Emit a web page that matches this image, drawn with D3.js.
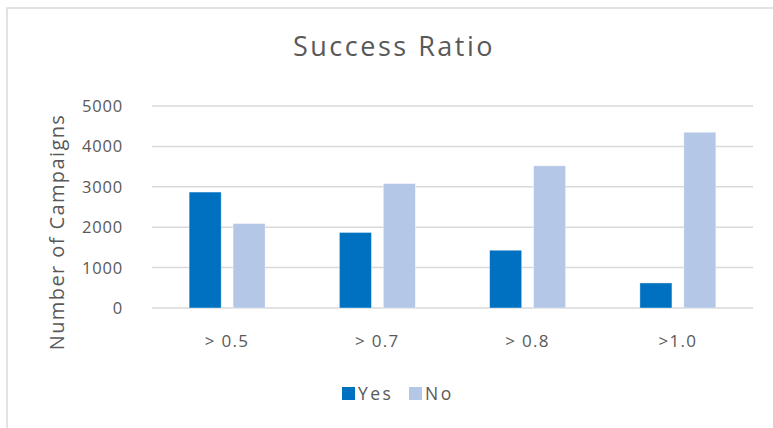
<!DOCTYPE html>
<html>
<head>
<meta charset="utf-8">
<script src="https://cdn.jsdelivr.net/npm/d3@7.9.0/dist/d3.min.js"></script>
<style>
  body { margin: 0; background: #fff; }
  svg { display: block; font-family: "Open Sans", "Noto Sans", sans-serif; }
</style>
</head>
<body>
<svg id="chart" width="773" height="428"></svg>
<script>
// chart data
const categories = ['> 0.5', '> 0.7', '> 0.8', '>1.0'];
const seriesNames = ['Yes', 'No'];
const yesValues = [2870, 1870, 1430, 620];
const noValues = [2090, 3080, 3520, 4350];
const yTicks = [0, 1000, 2000, 3000, 4000, 5000];
const colors = ['#0070C0', '#B4C7E7'];

let svg = d3.select('#chart');
const textColor = '#595959';

// chart area border (left and top visible only)
svg.append('path')
  .attr('d', 'M7,428 V8 H773')
  .attr('fill', 'none')
  .attr('stroke', '#d9d9d9')
  .attr('stroke-width', 1.5);

let plot = { left: 152, right: 753, top: 106, bottom: 308 };

let x0 = d3.scaleBand()
  .domain(categories)
  .range([plot.left, plot.right]);

let x1 = d3.scaleBand()
  .domain(seriesNames)
  .range([0, 76])
  .paddingInner(0.27);

let y = d3.scaleLinear()
  .domain([0, 5000])
  .range([plot.bottom, plot.top]);

// gridlines
svg.append('g')
  .selectAll('line')
  .data(yTicks)
  .enter()
  .append('line')
  .attr('x1', plot.left)
  .attr('x2', plot.right)
  .attr('y1', d => y(d))
  .attr('y2', d => y(d))
  .attr('stroke', '#d9d9d9')
  .attr('stroke-width', 1.5);

// y tick labels
svg.append('g')
  .selectAll('text')
  .data(yTicks)
  .enter()
  .append('text')
  .attr('x', 123)
  .attr('y', d => y(d) + 6)
  .attr('text-anchor', 'end')
  .attr('font-size', 16.5)
  .attr('letter-spacing', 0.8)
  .attr('fill', textColor)
  .text(d => d);

// bars
let data = categories.map((c, i) => ({ cat: c, values: [yesValues[i], noValues[i]] }));

let groups = svg.append('g')
  .selectAll('g')
  .data(data)
  .enter()
  .append('g')
  .attr('transform', d => `translate(${x0(d.cat) + (x0.bandwidth() - 76) / 2},0)`);

groups.selectAll('rect')
  .data(d => d.values.map((v, i) => ({ name: seriesNames[i], value: v, idx: i })))
  .enter()
  .append('rect')
  .attr('x', d => x1(d.name))
  .attr('width', x1.bandwidth())
  .attr('y', d => y(d.value))
  .attr('height', d => y(0) - y(d.value))
  .attr('fill', d => colors[d.idx])
  .attr('stroke', '#fff')
  .attr('stroke-opacity', 0.5)
  .attr('stroke-width', 0.8);

// x labels
svg.append('g')
  .selectAll('text')
  .data(categories)
  .enter()
  .append('text')
  .attr('x', d => x0(d) + x0.bandwidth() / 2)
  .attr('y', 347)
  .attr('text-anchor', 'middle')
  .attr('font-size', 17)
  .attr('letter-spacing', 1.3)
  .attr('fill', textColor)
  .text(d => d);

// title
svg.append('text')
  .attr('x', 394)
  .attr('y', 56)
  .attr('text-anchor', 'middle')
  .attr('font-size', 27)
  .attr('letter-spacing', 2.5)
  .attr('fill', textColor)
  .text('Success Ratio');

// y axis title
svg.append('text')
  .attr('transform', 'translate(64,232) rotate(-90)')
  .attr('text-anchor', 'middle')
  .attr('font-size', 20)
  .attr('letter-spacing', 1.4)
  .attr('fill', textColor)
  .text('Number of Campaigns');

// legend
let legend = svg.append('g');
let legendX = [342, 409];
seriesNames.forEach((name, i) => {
  legend.append('rect')
    .attr('x', legendX[i])
    .attr('y', 387)
    .attr('width', 13)
    .attr('height', 13)
    .attr('fill', colors[i]);
  legend.append('text')
    .attr('x', legendX[i] + 16)
    .attr('y', 400)
    .attr('font-size', 17.5)
    .attr('letter-spacing', 2.5)
    .attr('fill', textColor)
    .text(name);
});
</script>
</body>
</html>
